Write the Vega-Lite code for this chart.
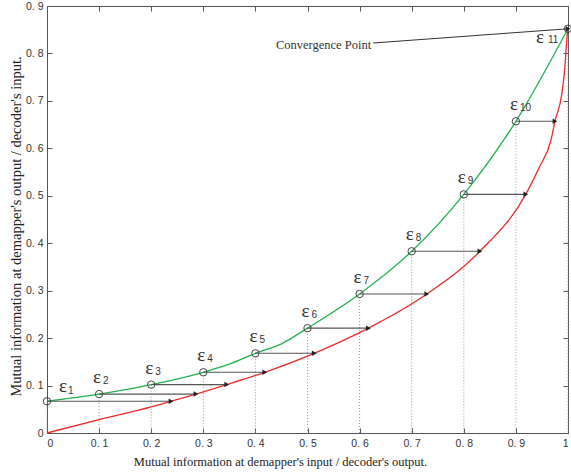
{
  "$schema": "https://vega.github.io/schema/vega-lite/v6.json",
  "width": 521,
  "height": 427,
  "autosize": "none",
  "padding": {"left": 47, "top": 6, "right": 3, "bottom": 41},
  "background": "white",
  "config": {
    "view": {"stroke": "#555", "strokeWidth": 1},
    "axis": {
      "domainColor": "#555",
      "tickColor": "#555",
      "grid": false,
      "labelFont": "Liberation Sans",
      "labelFontSize": 10.5,
      "labelColor": "#333",
      "titleFont": "Liberation Serif",
      "titleFontWeight": "normal",
      "titleColor": "#222"
    }
  },
  "datasets": {
    "pts": [
      {"k": "1", "x": 0.0, "g": 0.067, "xe": 0.238},
      {"k": "2", "x": 0.1, "g": 0.082, "xe": 0.286},
      {"k": "3", "x": 0.2, "g": 0.102, "xe": 0.345},
      {"k": "4", "x": 0.3, "g": 0.128, "xe": 0.418},
      {"k": "5", "x": 0.4, "g": 0.168, "xe": 0.513},
      {"k": "6", "x": 0.5, "g": 0.221, "xe": 0.617},
      {"k": "7", "x": 0.6, "g": 0.293, "xe": 0.729},
      {"k": "8", "x": 0.7, "g": 0.383, "xe": 0.831},
      {"k": "9", "x": 0.8, "g": 0.503, "xe": 0.919},
      {"k": "10", "x": 0.9, "g": 0.657, "xe": 0.975},
      {"k": "11", "x": 1.0, "g": 0.852, "xe": 1.0}
    ],
    "green": [
      {"x": 0.0, "y": 0.067},
      {"x": 0.1, "y": 0.082},
      {"x": 0.2, "y": 0.102},
      {"x": 0.3, "y": 0.128},
      {"x": 0.35, "y": 0.145},
      {"x": 0.4, "y": 0.168},
      {"x": 0.45, "y": 0.188},
      {"x": 0.5, "y": 0.221},
      {"x": 0.6, "y": 0.293},
      {"x": 0.7, "y": 0.383},
      {"x": 0.8, "y": 0.503},
      {"x": 0.9, "y": 0.657},
      {"x": 1.0, "y": 0.852}
    ],
    "red": [
      {"x": 0.0, "y": 0.0},
      {"x": 0.1, "y": 0.028},
      {"x": 0.2, "y": 0.055},
      {"x": 0.238, "y": 0.067},
      {"x": 0.286, "y": 0.082},
      {"x": 0.345, "y": 0.102},
      {"x": 0.418, "y": 0.128},
      {"x": 0.513, "y": 0.168},
      {"x": 0.617, "y": 0.221},
      {"x": 0.729, "y": 0.293},
      {"x": 0.831, "y": 0.383},
      {"x": 0.919, "y": 0.503},
      {"x": 0.945, "y": 0.56},
      {"x": 0.967, "y": 0.616},
      {"x": 0.975, "y": 0.657},
      {"x": 0.988, "y": 0.714},
      {"x": 0.994, "y": 0.77},
      {"x": 0.998, "y": 0.834},
      {"x": 1.0, "y": 0.852}
    ],
    "conv": [
      {"x": 0.626, "y": 0.822, "label": "Convergence Point"},
      {"x": 1.0, "y": 0.852, "label": ""}
    ]
  },
  "layer": [
    {
      "data": {"name": "pts"},
      "mark": {"type": "rule", "color": "#999", "strokeWidth": 1, "strokeDash": [1, 2]},
      "encoding": {
        "x": {
          "field": "x", "type": "quantitative",
          "scale": {"domain": [0, 1], "nice": false},
          "axis": {
            "orient": "bottom",
            "values": [0, 0.1, 0.2, 0.3, 0.4, 0.5, 0.6, 0.7, 0.8, 0.9, 1],
            "labelExpr": "datum.value == 0 ? '0' : datum.value == 1 ? '1' : replace(format(datum.value, '.1f'), '.', '. ')",
            "tickSize": -5,
            "labelPadding": 10,
            "title": "Mutual information at demapper's input / decoder's output.",
            "titleFontSize": 12.5,
            "titlePadding": 7,
            "titleX": 233
          }
        },
        "y": {
          "field": "g", "type": "quantitative",
          "scale": {"domain": [0, 0.9], "nice": false},
          "axis": {
            "orient": "left",
            "values": [0, 0.1, 0.2, 0.3, 0.4, 0.5, 0.6, 0.7, 0.8, 0.9],
            "labelExpr": "datum.value == 0 ? '0' : replace(format(datum.value, '.1f'), '.', '. ')",
            "tickSize": -5,
            "labelPadding": 9,
            "title": "Mutual information at demapper's output / decoder's input.",
            "titleFontSize": 14.5,
            "titlePadding": 2,
            "titleY": 220
          }
        },
        "y2": {"datum": 0}
      }
    },
    {
      "data": {"name": "green"},
      "mark": {"type": "line", "color": "#22b24c", "strokeWidth": 1.3, "interpolate": "monotone"},
      "encoding": {
        "x": {"field": "x", "type": "quantitative",
          "axis": {"orient": "top", "labels": false, "title": null, "tickSize": -5,
            "values": [0, 0.1, 0.2, 0.3, 0.4, 0.5, 0.6, 0.7, 0.8, 0.9, 1]}},
        "y": {"field": "y", "type": "quantitative",
          "axis": {"orient": "right", "labels": false, "title": null, "tickSize": -5,
            "values": [0, 0.1, 0.2, 0.3, 0.4, 0.5, 0.6, 0.7, 0.8, 0.9]}}
      }
    },
    {
      "data": {"name": "red"},
      "mark": {"type": "line", "color": "#ec2a2a", "strokeWidth": 1.3, "interpolate": "monotone"},
      "encoding": {
        "x": {"field": "x", "type": "quantitative", "axis": null},
        "y": {"field": "y", "type": "quantitative", "axis": null}
      }
    },
    {
      "data": {"name": "pts"},
      "transform": [{"filter": "datum.k != '11'"}],
      "mark": {"type": "rule", "color": "#555", "strokeWidth": 1.1},
      "encoding": {
        "x": {"field": "x", "type": "quantitative", "axis": null},
        "x2": {"field": "xe"},
        "y": {"field": "g", "type": "quantitative", "axis": null}
      }
    },
    {
      "data": {"name": "pts"},
      "mark": {"type": "point", "shape": "triangle-right", "filled": true, "color": "#222", "size": 30, "opacity": 1},
      "encoding": {
        "x": {"field": "xe", "type": "quantitative", "axis": null},
        "y": {"field": "g", "type": "quantitative", "axis": null}
      }
    },
    {
      "data": {"name": "pts"},
      "mark": {"type": "point", "shape": "circle", "filled": false, "color": "#444", "size": 55, "strokeWidth": 1, "opacity": 1},
      "encoding": {
        "x": {"field": "x", "type": "quantitative", "axis": null},
        "y": {"field": "g", "type": "quantitative", "axis": null}
      }
    },
    {
      "data": {"name": "conv"},
      "mark": {"type": "line", "color": "#333", "strokeWidth": 1},
      "encoding": {
        "x": {"field": "x", "type": "quantitative", "axis": null},
        "y": {"field": "y", "type": "quantitative", "axis": null}
      }
    },
    {
      "data": {"name": "conv"},
      "mark": {"type": "text", "align": "right", "baseline": "middle", "font": "Liberation Serif", "fontSize": 12.5, "color": "#333", "dx": -2, "dy": 2},
      "encoding": {
        "x": {"field": "x", "type": "quantitative", "axis": null},
        "y": {"field": "y", "type": "quantitative", "axis": null},
        "text": {"field": "label"}
      }
    },
    {
      "data": {"name": "pts"},
      "transform": [{"filter": "datum.k != '1' && datum.k != '11'"}],
      "mark": {"type": "text", "align": "center", "baseline": "middle", "font": "Liberation Serif", "fontSize": 19, "color": "#333", "dx": -2, "dy": -17},
      "encoding": {
        "x": {"field": "x", "type": "quantitative", "axis": null},
        "y": {"field": "g", "type": "quantitative", "axis": null},
        "text": {"value": "ε"}
      }
    },
    {
      "data": {"name": "pts"},
      "transform": [{"filter": "datum.k != '1' && datum.k != '11'"}],
      "mark": {"type": "text", "align": "left", "baseline": "middle", "font": "Liberation Sans", "fontSize": 10, "color": "#333", "dx": 4, "dy": -13},
      "encoding": {
        "x": {"field": "x", "type": "quantitative", "axis": null},
        "y": {"field": "g", "type": "quantitative", "axis": null},
        "text": {"field": "k"}
      }
    },
    {
      "data": {"name": "pts"},
      "transform": [{"filter": "datum.k == '1'"}],
      "mark": {"type": "text", "align": "center", "baseline": "middle", "font": "Liberation Serif", "fontSize": 19, "color": "#333", "dx": 16, "dy": -15},
      "encoding": {
        "x": {"field": "x", "type": "quantitative", "axis": null},
        "y": {"field": "g", "type": "quantitative", "axis": null},
        "text": {"value": "ε"}
      }
    },
    {
      "data": {"name": "pts"},
      "transform": [{"filter": "datum.k == '1'"}],
      "mark": {"type": "text", "align": "left", "baseline": "middle", "font": "Liberation Sans", "fontSize": 10, "color": "#333", "dx": 21, "dy": -10},
      "encoding": {
        "x": {"field": "x", "type": "quantitative", "axis": null},
        "y": {"field": "g", "type": "quantitative", "axis": null},
        "text": {"field": "k"}
      }
    },
    {
      "data": {"name": "pts"},
      "transform": [{"filter": "datum.k == '11'"}],
      "mark": {"type": "text", "align": "center", "baseline": "middle", "font": "Liberation Serif", "fontSize": 19, "color": "#333", "dx": -28, "dy": 8},
      "encoding": {
        "x": {"field": "x", "type": "quantitative", "axis": null},
        "y": {"field": "g", "type": "quantitative", "axis": null},
        "text": {"value": "ε"}
      }
    },
    {
      "data": {"name": "pts"},
      "transform": [{"filter": "datum.k == '11'"}],
      "mark": {"type": "text", "align": "left", "baseline": "middle", "font": "Liberation Sans", "fontSize": 10, "color": "#333", "dx": -20, "dy": 11},
      "encoding": {
        "x": {"field": "x", "type": "quantitative", "axis": null},
        "y": {"field": "g", "type": "quantitative", "axis": null},
        "text": {"field": "k"}
      }
    }
  ],
  "resolve": {"axis": {"x": "independent", "y": "independent"}}
}
